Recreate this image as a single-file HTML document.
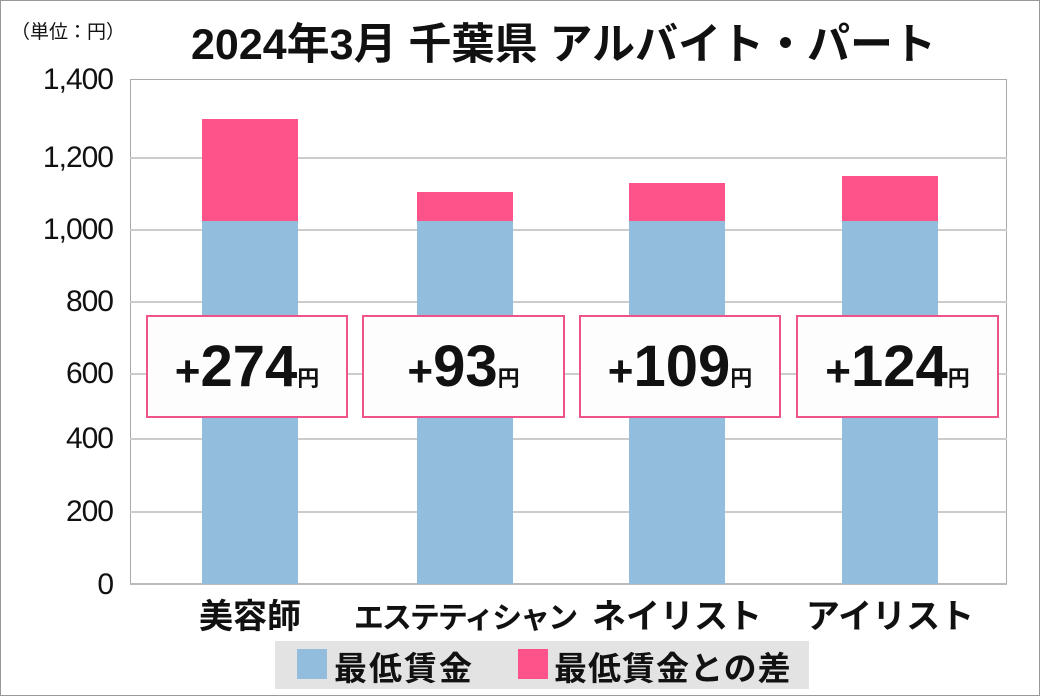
<!DOCTYPE html>
<html><head><meta charset="utf-8"><style>
body{margin:0;background:#fff}
#c{position:relative;width:1038px;height:694px;border:1px solid #999;overflow:hidden;font-family:"Liberation Sans","Noto Sans CJK JP",sans-serif}
.a{position:absolute}
.g{position:absolute;left:129px;width:877px;height:2px;background:#ccc}
.yl{position:absolute;right:926px;font-size:30px;color:#111;line-height:1;letter-spacing:-1px}
.bar{position:absolute;width:96px}
.box{position:absolute;top:314px;height:99px;border:2px solid #f0528a;background:#fdfdfd;text-align:center;font-weight:bold;color:#111;line-height:99px;font-size:58px}
.box small{font-size:22px}
.box .p{font-size:44px}
.cat{position:absolute;top:588px;font-weight:bold;font-size:34px;text-align:center;width:260px;color:#111}
</style></head><body><div id="c">
<div class="a" style="left:10px;top:16px;font-size:19px;color:#111">（単位：円）</div>
<div class="a" style="left:190px;top:23px;font-size:43px;font-weight:bold;color:#111;line-height:1">2024年3月 千葉県 アルバイト・パート</div>
<div class="a" style="left:129px;top:78px;width:877px;height:506px;border:1px solid #aaa;box-sizing:border-box"></div>
<div class="g" style="top:156px"></div><div class="g" style="top:228px"></div><div class="g" style="top:300px"></div>
<div class="g" style="top:372px"></div><div class="g" style="top:437px"></div><div class="g" style="top:510px"></div><div class="g" style="top:582px;background:#bbb"></div>
<div class="yl" style="top:64px">1,400</div><div class="yl" style="top:142px">1,200</div><div class="yl" style="top:214px">1,000</div>
<div class="yl" style="top:286px">800</div><div class="yl" style="top:358px">600</div><div class="yl" style="top:423px">400</div>
<div class="yl" style="top:496px">200</div><div class="yl" style="top:569px">0</div>
<div class="bar" style="left:201px;top:118px;height:102px;background:#fe528a"></div><div class="bar" style="left:201px;top:220px;height:363px;background:#93bddd"></div>
<div class="bar" style="left:416px;top:191px;height:29px;background:#fe528a"></div><div class="bar" style="left:416px;top:220px;height:363px;background:#93bddd"></div>
<div class="bar" style="left:628px;top:182px;height:38px;background:#fe528a"></div><div class="bar" style="left:628px;top:220px;height:363px;background:#93bddd"></div>
<div class="bar" style="left:841px;top:175px;height:45px;background:#fe528a"></div><div class="bar" style="left:841px;top:220px;height:363px;background:#93bddd"></div>
<div class="box" style="left:145px;width:198px"><span class="p">+</span>274<small>円</small></div>
<div class="box" style="left:361px;width:199px"><span class="p">+</span>93<small>円</small></div>
<div class="box" style="left:578px;width:198px"><span class="p">+</span>109<small>円</small></div>
<div class="box" style="left:795px;width:199px"><span class="p">+</span>124<small>円</small></div>
<div class="cat" style="left:119px">美容師</div>
<div class="cat" style="left:334px;font-size:30px;top:592px;letter-spacing:-2px">エステティシャン</div>
<div class="cat" style="left:546px">ネイリスト</div>
<div class="cat" style="left:759px">アイリスト</div>
<div class="a" style="left:274px;top:640px;width:534px;height:48px;background:#e3e3e3"></div>
<div class="a" style="left:296px;top:648px;width:30px;height:30px;background:#93bddd"></div>
<div class="a" style="left:333px;top:641px;font-size:33px;color:#111;font-weight:bold;letter-spacing:2px">最低賃金</div>
<div class="a" style="left:517px;top:648px;width:30px;height:30px;background:#fe528a"></div>
<div class="a" style="left:553px;top:641px;font-size:33px;color:#111;font-weight:bold;letter-spacing:1px">最低賃金との差</div>
</div></body></html>
